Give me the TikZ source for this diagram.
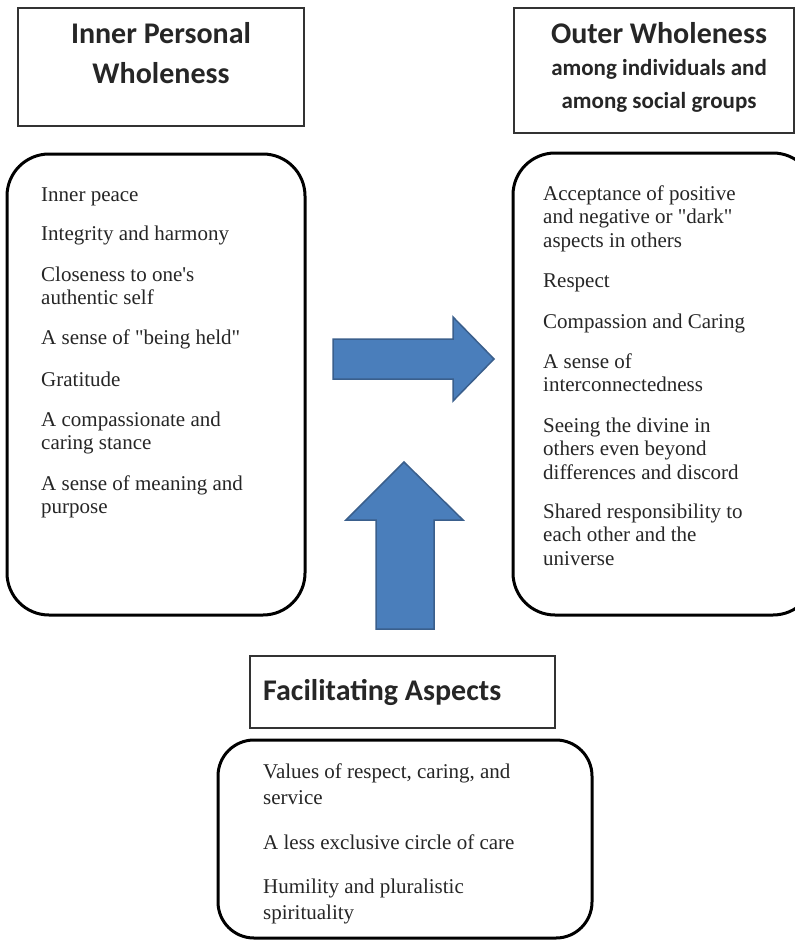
\documentclass[tikz,border=0pt]{standalone}
\usepackage{fontspec}
\setmainfont{Liberation Serif}
\newfontfamily\headfont{Carlito}
\definecolor{txt}{HTML}{262626}
\definecolor{arrowfill}{HTML}{4A7EBB}
\definecolor{arrowline}{HTML}{3A5F8C}
\newcommand{\dq}{\textquotedbl}
\newcommand{\sq}{\textquotesingle}
\begin{document}
\begin{tikzpicture}[x=1pt,y=-1pt,
  titlebox/.style={draw=black!80, line width=1.2pt},
  itembox/.style={draw=black, line width=3pt, rounded corners=42pt},
  item/.style={anchor=base west, align=left, inner sep=0pt, text=txt, font=\fontsize{21}{23.5}\selectfont},
  itemb/.style={item, font=\fontsize{21}{26}\selectfont},
  head/.style={anchor=base, align=center, inner sep=0pt, text=txt, font=\headfont\bfseries\fontsize{30}{40}\selectfont},
  subhead/.style={anchor=base, align=center, inner sep=0pt, text=txt, font=\headfont\bfseries\fontsize{23}{33}\selectfont},
  blockarrow/.style={fill=arrowfill, draw=arrowline, line width=1.5pt}
]
\useasboundingbox (0,0) rectangle (795,940);
\clip (0,0) rectangle (795,940);
\fill[white] (0,0) rectangle (795,940);

% title boxes
\draw[titlebox] (18,8) rectangle (304,126);
\node[head] (innerT) at (161,83) {Inner Personal\\Wholeness};

\draw[titlebox] (514,8) rectangle (794,133);
\node[head] (outerT) at (659,43) {Outer Wholeness};
\node[subhead] (outerS) at (659,108) {among individuals and\\among social groups};

\draw[titlebox] (250,656) rectangle (555,728);
\node[head, anchor=base west] (facT) at (263,700) {Facilitating Aspects};

% rounded boxes
\draw[itembox] (7,154) rectangle (305,615);
\draw[itembox] (513,153) rectangle (815,615);
\draw[itembox, rounded corners=36pt] (218,740) rectangle (592,938);

% inner items (anchored at the baseline of the last line)
\node[item] (i1) at (41,201) {Inner peace};
\node[item] (i2) at (41,240) {Integrity and harmony};
\node[item] (i3) at (41,304.5) {Closeness to one\sq s\\authentic self};
\node[item] (i4) at (41,344) {A sense of \dq being held\dq};
\node[item] (i5) at (41,386) {Gratitude};
\node[item] (i6) at (41,449.5) {A compassionate and\\caring stance};
\node[item] (i7) at (41,513.5) {A sense of meaning and\\purpose};

% outer items
\node[item] (o1) at (543,247) {Acceptance of positive\\and negative or \dq dark\dq\\aspects in others};
\node[item] (o2) at (543,287) {Respect};
\node[item] (o3) at (543,328) {Compassion and Caring};
\node[item] (o4) at (543,391.5) {A sense of\\interconnectedness};
\node[item] (o5) at (543,479) {Seeing the divine in\\others even beyond\\differences and discord};
\node[item] (o6) at (543,565) {Shared responsibility to\\each other and the\\universe};

% facilitating items
\node[itemb] (f1) at (263,804) {Values of respect, caring, and\\service};
\node[itemb] (f2) at (263,849) {A less exclusive circle of care};
\node[itemb] (f3) at (263,919) {Humility and pluralistic\\spirituality};

% block arrows
\draw[blockarrow] (333,339) -- (453,339) -- (453,317) -- (494,359) -- (453,401) -- (453,379) -- (333,379) -- cycle;
\draw[blockarrow] (376,629) -- (376,520) -- (346,520) -- (404,462) -- (463,520) -- (434,520) -- (434,629) -- cycle;
\end{tikzpicture}
\end{document}
